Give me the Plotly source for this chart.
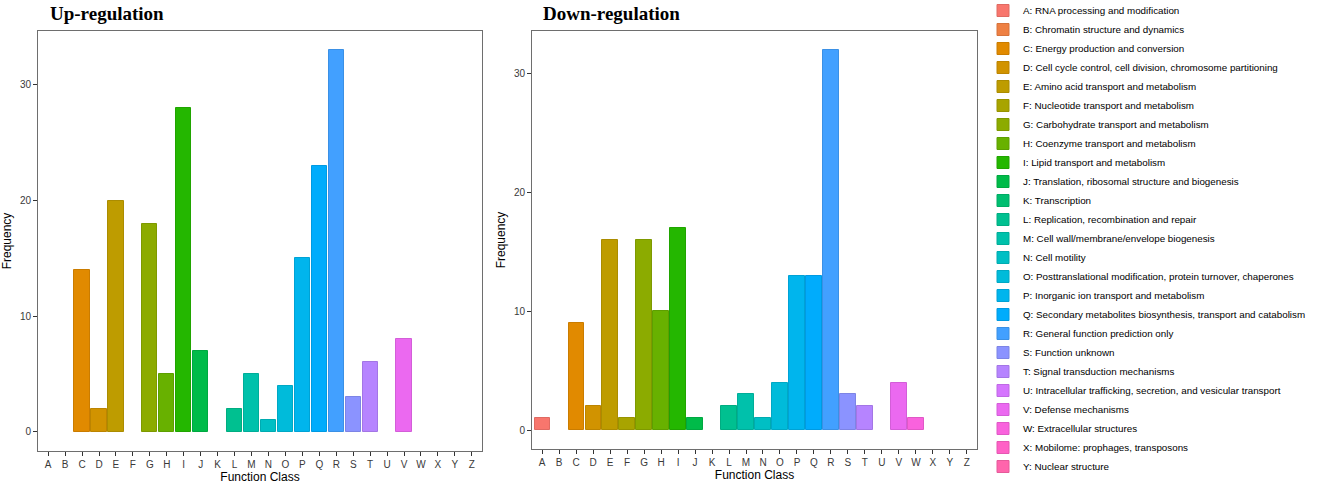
import math
import plotly.graph_objects as go

# ---------------- data ----------------
categories = list("ABCDEFGHIJKLMNOPQRSTUVWXYZ")
legend_labels = [
    "A: RNA processing and modification",
    "B: Chromatin structure and dynamics",
    "C: Energy production and conversion",
    "D: Cell cycle control, cell division, chromosome partitioning",
    "E: Amino acid transport and metabolism",
    "F: Nucleotide transport and metabolism",
    "G: Carbohydrate transport and metabolism",
    "H: Coenzyme transport and metabolism",
    "I: Lipid transport and metabolism",
    "J: Translation, ribosomal structure and biogenesis",
    "K: Transcription",
    "L: Replication, recombination and repair",
    "M: Cell wall/membrane/envelope biogenesis",
    "N: Cell motility",
    "O: Posttranslational modification, protein turnover, chaperones",
    "P: Inorganic ion transport and metabolism",
    "Q: Secondary metabolites biosynthesis, transport and catabolism",
    "R: General function prediction only",
    "S: Function unknown",
    "T: Signal transduction mechanisms",
    "U: Intracellular trafficking, secretion, and vesicular transport",
    "V: Defense mechanisms",
    "W: Extracellular structures",
    "X: Mobilome: prophages, transposons",
    "Y: Nuclear structure",
]
panel_titles = ["Up-regulation", "Down-regulation"]
up_values = [0, 0, 14, 2, 20, 0, 18, 5, 28, 7, 0, 2, 5, 1, 4, 15, 23, 33, 3, 6, 0, 8, 0, 0, 0, 0]
down_values = [1, 0, 9, 2, 16, 1, 16, 10, 17, 1, 0, 2, 3, 1, 4, 13, 13, 32, 3, 2, 0, 4, 1, 0, 0, 0]
y_ticks = [0, 10, 20, 30]


# ---------------- ggplot2 hue palette (hcl, c=100, l=65) ----------------
def hcl_to_hex(h, c=100.0, l=65.0):
    Xn, Yn, Zn = 95.047, 100.0, 108.883
    U = c * math.cos(math.radians(h))
    V = c * math.sin(math.radians(h))
    Y = Yn * (((l + 16) / 116) ** 3 if l > 7.999592 else l / 903.3)
    t = Xn + Yn + Zn
    x, y = Xn / t, Yn / t
    uN = 2 * x / (6 * y - x + 1.5)
    vN = 4.5 * y / (6 * y - x + 1.5)
    u = U / (13 * l) + uN
    v = V / (13 * l) + vN
    X = 9.0 * Y * u / (4 * v)
    Z = -X / 3 - 5 * Y + 3 * Y / v
    X, Y, Z = X / 100, Y / 100, Z / 100
    r = 3.240479 * X - 1.537150 * Y - 0.498535 * Z
    g = -0.969256 * X + 1.875992 * Y + 0.041556 * Z
    b = 0.055648 * X - 0.204043 * Y + 1.057311 * Z

    def gam(val):
        val = 1.055 * val ** (1 / 2.4) - 0.055 if val > 0.00304 else 12.92 * val
        return int(round(min(max(val, 0), 1) * 255))

    return "#%02X%02X%02X" % (gam(r), gam(g), gam(b))


def darker(hexc, f=0.9):
    r, g, b = int(hexc[1:3], 16), int(hexc[3:5], 16), int(hexc[5:7], 16)
    return "rgb(%d,%d,%d)" % (r * f, g * f, b * f)


n = len(categories)
colors = [hcl_to_hex(15 + 360.0 / n * i) for i in range(n)]

fig = go.Figure()

for i, lab in enumerate(legend_labels):
    cat = categories[i]
    for vals, xa, ya, show in ((up_values, "x", "y", False), (down_values, "x2", "y2", True)):
        v = vals[i]
        fig.add_trace(go.Bar(
            x=[cat], y=[v if v > 0 else None],
            width=0.9,
            name=lab, legendgroup=cat, showlegend=show,
            marker=dict(color=colors[i], line=dict(color=darker(colors[i]), width=1)),
            xaxis=xa, yaxis=ya,
            hovertemplate=cat + ": %{y}<extra></extra>",
        ))

axis_font = dict(family="Liberation Sans", size=10, color="#3A3A3A")
title_font = dict(family="Liberation Sans", size=12, color="#000000")

common_x = dict(
    type="category", categoryorder="array", categoryarray=categories,
    range=[-0.6, len(categories) - 0.4],
    showline=True, mirror=True, linecolor="#6E6E6E", linewidth=1,
    ticks="outside", ticklen=4, tickcolor="#333333", tickwidth=1,
    tickfont=axis_font, showgrid=False, zeroline=False,
    title=dict(text="Function Class", font=title_font, standoff=1),
)
common_y = dict(
    showline=True, mirror=True, linecolor="#6E6E6E", linewidth=1,
    ticks="outside", ticklen=4, tickcolor="#333333", tickwidth=1,
    tickfont=axis_font, showgrid=False, zeroline=False,
    tickvals=y_ticks,
    title=dict(text="Frequency", font=title_font, standoff=5),
)

W, H = 1325, 485
up_max = max(up_values)
down_max = max(down_values)

title_style = dict(family="Liberation Serif", size=19, color="#000000", weight="bold")

fig.update_layout(
    width=W, height=H,
    margin=dict(l=0, r=0, t=0, b=0, autoexpand=False),
    paper_bgcolor="white", plot_bgcolor="white",
    barmode="overlay",
    bargap=0,
    xaxis=dict(common_x, domain=[38 / W, 482 / W], anchor="y"),
    yaxis=dict(common_y, domain=[34 / H, 454 / H], anchor="x",
               range=[-0.05 * up_max, up_max * 1.05]),
    xaxis2=dict(common_x, domain=[532 / W, 977 / W], anchor="y2"),
    yaxis2=dict(common_y, domain=[36 / H, 454 / H], anchor="x2",
                range=[-0.05 * down_max, down_max * 1.05]),
    legend=dict(
        x=983 / W, y=1 + 4 / H, xanchor="left", yanchor="top",
        maxheight=1,
        font=dict(family="Liberation Sans", size=9.8, color="#000000"),
        traceorder="normal", bgcolor="rgba(0,0,0,0)", borderwidth=0,
        tracegroupgap=0, itemclick=False,
    ),
    annotations=[
        dict(text=panel_titles[0], x=0.0225, y=1 - 13.5 / H, xref="x domain", yref="paper",
             xanchor="left", yanchor="middle", showarrow=False, font=title_style),
        dict(text=panel_titles[1], x=0.0202, y=1 - 13.5 / H, xref="x2 domain", yref="paper",
             xanchor="left", yanchor="middle", showarrow=False, font=title_style),
    ],
    showlegend=True,
)

fig.write_html("out.html", post_script="document.body.style.margin='0';",
               config={"displayModeBar": False})
